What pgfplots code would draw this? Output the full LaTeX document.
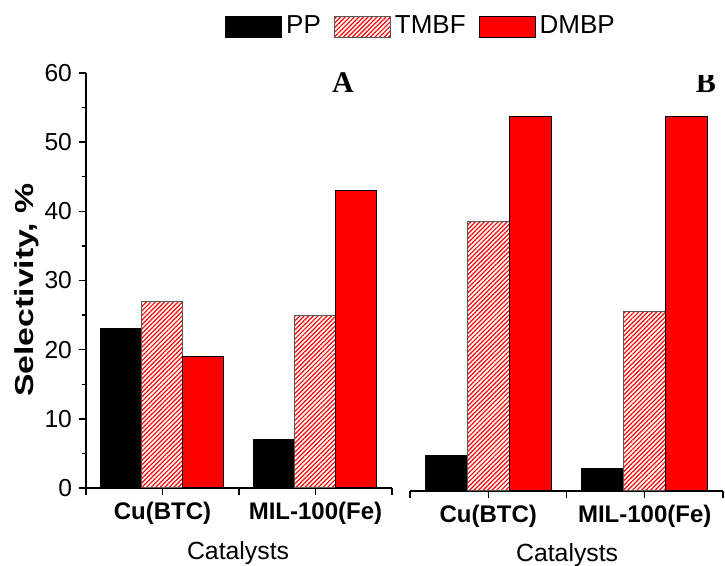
\documentclass[border=0pt]{standalone}
\usepackage{fontspec}
\setmainfont{Liberation Sans}
\newfontfamily\timesfont{Liberation Serif}
\usepackage{pgfplots}
\usepackage{pgfplotstable}
\pgfplotsset{compat=1.18}
\usetikzlibrary{patterns.meta}

\pgfplotstableread{
x PP TMBF DMBP
1 23 27 19
2 7 25 43
}\tableA
\pgfplotstableread{
x PP TMBF DMBP
1 5.2 39.0 54.1
2 3.3 26.0 54.1
}\tableB

\pgfplotsset{
  common/.style={
    scale only axis, ybar=0pt,
    xmin=0.5, xmax=2.5, ymin=0, ymax=60,
    height=207.5pt,
    xtick={0.5,1,1.5,2,2.5},
    xticklabels={,Cu(BTC),,MIL-100(Fe),},
    xticklabel style={font=\fontsize{12}{14}\selectfont\bfseries},
    yticklabel style={font=\fontsize{12.3}{14}\selectfont},
    /pgf/number format/assume math mode=true,
    tick align=outside, major tick length=3.5pt, minor tick length=2pt,
    axis line style={line width=0.7pt},
    every tick/.style={line width=0.7pt, black},
    legend image code/.code={\draw[#1] (0pt,-5.25pt) rectangle (28pt,5.25pt);},
  },
  ppstyle/.style={fill=black, draw=black, line width=0.5pt},
  tmstyle/.style={draw=black!65, line width=0.5pt,
    pattern={Lines[angle=45,distance=1.6pt,line width=0.6pt]}, pattern color=red},
  dmstyle/.style={fill=red, draw=black, line width=0.5pt},
}

\begin{document}
\begin{tikzpicture}
\begin{axis}[common,
  at={(43pt,39pt)}, anchor=south west,
  width=153pt, bar width=20.5pt,
  axis lines*=left,
  ytick={0,10,...,60}, minor y tick num=1,
  ylabel={\scalebox{1.3}[1]{\bfseries Selectivity, \%}},
  ylabel style={at={(axis description cs:-0.193,0.477)}, anchor=center, font=\fontsize{13}{15}\selectfont},
  xlabel={Catalysts},
  xlabel style={at={(axis description cs:0.497,-0.157)}, anchor=center, font=\fontsize{12.4}{14}\selectfont},
  legend columns=3,
  legend style={at={(1.098,1.112)}, anchor=center, draw=none, fill=none,
    font=\fontsize{13}{15}\selectfont,
    /tikz/every even column/.append style={column sep=4.5pt}},
]
\addplot[ppstyle] table[x=x,y=PP] {\tableA};
\addplot[tmstyle] table[x=x,y=TMBF] {\tableA};
\addplot[dmstyle] table[x=x,y=DMBP] {\tableA};
\legend{PP,TMBF,DMBP}
\node[font=\timesfont\bfseries\fontsize{15}{18}\selectfont] at (axis description cs:0.840,0.978) {A};
\end{axis}

\begin{axis}[common,
  at={(205pt,37.5pt)}, anchor=south west,
  width=156.5pt, bar width=21pt,
  axis x line*=bottom, axis y line=none,
  ytick=\empty,
  xlabel={Catalysts},
  xlabel style={at={(axis description cs:0.502,-0.154)}, anchor=center, font=\fontsize{12.4}{14}\selectfont},
]
\addplot[ppstyle] table[x=x,y=PP] {\tableB};
\addplot[tmstyle] table[x=x,y=TMBF] {\tableB};
\addplot[dmstyle] table[x=x,y=DMBP] {\tableB};
\node[font=\timesfont\bfseries\fontsize{15}{18}\selectfont] at (axis description cs:0.945,0.985) {B};
\end{axis}
\pgfresetboundingbox
\useasboundingbox (0,0) rectangle (362.5pt,283pt);
\end{tikzpicture}
\end{document}
